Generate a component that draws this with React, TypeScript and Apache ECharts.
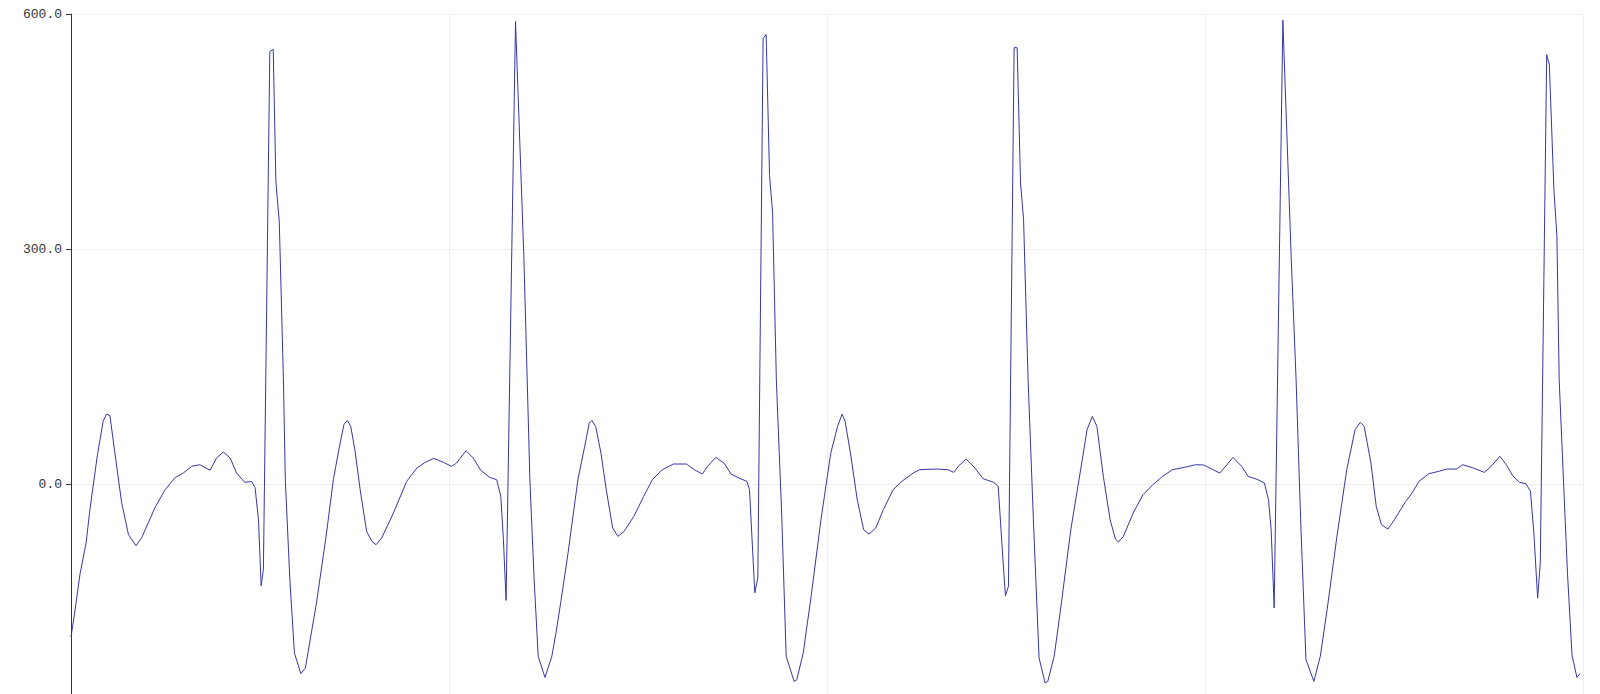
import React, { useEffect, useRef } from "react";
import * as echarts from "echarts";

// Time (s) of each sample
const sampleTimes: number[] = [
  0, 0.008, 0.024, 0.04, 0.05, 0.07, 0.085, 0.094, 0.103, 0.116, 0.134, 0.152, 0.172, 0.187,
  0.222, 0.249, 0.275, 0.297, 0.319, 0.341, 0.368, 0.385, 0.403, 0.421, 0.438, 0.46, 0.478,
  0.487, 0.496, 0.503, 0.509, 0.526, 0.535, 0.542, 0.551, 0.562, 0.567, 0.579, 0.591, 0.608,
  0.62, 0.65, 0.676, 0.694, 0.712, 0.722, 0.731, 0.74, 0.751, 0.765, 0.782, 0.796, 0.807,
  0.822, 0.853, 0.888, 0.915, 0.937, 0.96, 0.985, 1.007, 1.02, 1.045, 1.064, 1.084, 1.108,
  1.126, 1.137, 1.144, 1.151, 1.176, 1.198, 1.214, 1.225, 1.236, 1.254, 1.272, 1.283, 1.296,
  1.315, 1.341, 1.359, 1.371, 1.378, 1.388, 1.402, 1.416, 1.433, 1.447, 1.463, 1.489, 1.515,
  1.538, 1.562, 1.593, 1.628, 1.649, 1.67, 1.684, 1.706, 1.729, 1.746, 1.767, 1.788, 1.795,
  1.809, 1.817, 1.831, 1.839, 1.848, 1.856, 1.866, 1.88, 1.892, 1.913, 1.92, 1.937, 1.958,
  1.984, 2.01, 2.028, 2.04, 2.048, 2.062, 2.08, 2.097, 2.111, 2.129, 2.149, 2.175, 2.198,
  2.228, 2.245, 2.288, 2.32, 2.335, 2.349, 2.368, 2.389, 2.413, 2.441, 2.453, 2.462, 2.472,
  2.48, 2.495, 2.503, 2.512, 2.52, 2.532, 2.546, 2.561, 2.577, 2.584, 2.601, 2.619, 2.645,
  2.671, 2.688, 2.702, 2.714, 2.731, 2.749, 2.763, 2.771, 2.784, 2.81, 2.836, 2.862, 2.888,
  2.914, 2.945, 2.975, 2.997, 3.018, 3.039, 3.053, 3.074, 3.097, 3.114, 3.14, 3.157, 3.168,
  3.175, 3.183, 3.206, 3.228, 3.241, 3.253, 3.267, 3.288, 3.305, 3.323, 3.349, 3.375, 3.397,
  3.411, 3.421, 3.439, 3.453, 3.467, 3.484, 3.501, 3.531, 3.548, 3.566, 3.592, 3.618, 3.64,
  3.665, 3.682, 3.71, 3.739, 3.757, 3.78, 3.797, 3.814, 3.832, 3.849, 3.861, 3.87, 3.88,
  3.887, 3.904, 3.911, 3.923, 3.931, 3.937, 3.959, 3.971, 3.984, 3.992,
];

// ECG amplitude of each sample
const sampleValues: number[] = [
  -195, -170, -114.5, -75, -32.8, 37.4, 79.9, 89.4, 87.2, 40, -23.9, -64.7, -78.8, -68.6,
  -30.3, -7.3, 8, 14, 22.5, 24.6, 17.4, 33.2, 40.8, 33.2, 14, 2, 3.3,
  -4.7, -45.6, -129.8, -109.4, 552, 555, 386, 335, 133, 5, -122, -215.7, -242,
  -235, -150, -62.6, 5.5, 52.3, 75.7, 81.2, 73.5, 43.8, -7.3, -60.5, -73.3, -77.5,
  -68.9, -37, 3.3, 20.4, 27.6, 32.7, 27.6, 22.5, 26.8, 42.5, 33.2, 17.4, 8.4,
  5.5, -15.8, -71.1, -148.6, 590.6, 290.5, 5.5, -120, -220, -247, -220, -190, -150,
  -88, 5.5, 48, 77.8, 81.2, 73.6, 39.5, -7.3, -56.2, -66.9, -60.5, -41.3, -15.8,
  5.5, 17.4, 25.5, 25.5, 18.3, 12.7, 22.5, 34, 25.9, 12.7, 7.6, 3.4, -7.3,
  -139, -120, 568.7, 574, 394, 347, 133, -37, -220, -252, -250, -216, -143.5,
  -45.6, 39.5, 73.6, 89.3, 80, 39.5, -20, -58.3, -63.9, -56.2, -32.8, -7.3, 3.4,
  14, 18.3, 19.1, 18.3, 14.9, 23.4, 31.9, 21.7, 6.8, 2.1, -3, -71, -142.6,
  -130.7, 557, 557, 384, 338, 133, -45.6, -222, -254, -252, -220, -156, -58.3,
  18.3, 69.3, 86.3, 73.6, 9.8, -45.6, -70.3, -74.1, -66.9, -37, -13.7, -0.9, 9.8,
  18.3, 21.2, 24.6, 24.2, 19.1, 14, 21.7, 34, 22.5, 9.8, 5.5, 1.2, -20,
  -58.3, -158.3, 592, 290, 133, -45.6, -224, -252, -220, -160.5, -66.9, 18.3, 69.3,
  78.7, 73.6, 26.8, -28.6, -52, -57.5, -45.6, -22.2, -11.5, 3.4, 13.1, 16.1, 19.1,
  19.1, 24.6, 20.4, 14.9, 22.5, 35.3, 24.6, 10.6, 2.1, 0.4, -9.4, -62.6, -145.6,
  -100.9, 548, 535, 376, 316, 133, -114.6, -218.8, -247, -242,
];

const yTicks = { min: -300, max: 600, step: 300 };
const xTicks = { min: 0, max: 4, step: 1 };

export default function App() {
  const ref = useRef<HTMLDivElement>(null);

  useEffect(() => {
    if (!ref.current) return;
    const chart = echarts.init(ref.current, undefined, { renderer: "svg" });
    const data = sampleTimes.map((t, i) => [t, sampleValues[i]]);
    chart.setOption({
      animation: false,
      backgroundColor: "#ffffff",
      grid: {
        left: 71,
        top: 14,
        width: 1512,
        height: 705,
        containLabel: false,
        outerBoundsMode: "none",
      },
      xAxis: {
        type: "value",
        min: xTicks.min,
        max: xTicks.max,
        interval: xTicks.step,
        axisLine: { show: false, onZero: false },
        axisTick: { show: false },
        axisLabel: { show: false },
        splitLine: { show: true, lineStyle: { color: "#efefef", width: 1 } },
      },
      yAxis: {
        type: "value",
        min: yTicks.min,
        max: yTicks.max,
        interval: yTicks.step,
        axisLine: { show: true, onZero: false, lineStyle: { color: "#333", width: 1 } },
        axisTick: { show: true, length: 5, lineStyle: { color: "#333" } },
        axisLabel: {
          fontFamily: "Liberation Mono",
          fontSize: 13,
          color: "#333",
          margin: 9,
          showMinLabel: false,
          formatter: (v: number) => v.toFixed(1),
        },
        splitLine: { show: true, lineStyle: { color: "#efefef", width: 1 } },
      },
      series: [
        {
          type: "line",
          data,
          showSymbol: false,
          symbol: "none",
          lineStyle: { color: "#3636a8", width: 1 },
          itemStyle: { color: "#3636a8" },
        },
      ],
    });
    return () => chart.dispose();
  }, []);

  return (
    <div
      ref={ref}
      style={{ position: "fixed", left: 0, top: 0, width: 1600, height: 694, background: "#fff" }}
    />
  );
}
